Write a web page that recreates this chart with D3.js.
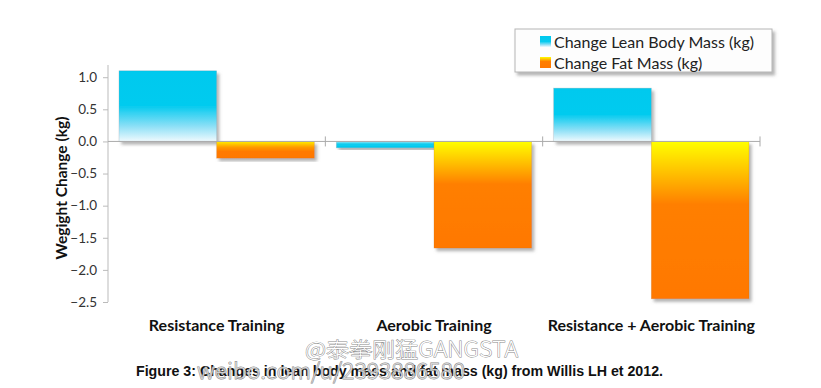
<!DOCTYPE html>
<html><head><meta charset="utf-8">
<script src="https://cdn.jsdelivr.net/npm/d3@7"></script>
<style>body{margin:0;background:#fff}svg{display:block}</style>
</head><body>
<svg id="c" width="821" height="388"></svg>
<script>
const categories = ["Resistance Training", "Aerobic Training", "Resistance + Aerobic Training"];
const seriesNames = ["Change Lean Body Mass (kg)", "Change Fat Mass (kg)"];
const leanMass = [1.1, -0.1, 0.83];
const fatMass = [-0.26, -1.66, -2.45];
const yTicks = [1.0, 0.5, 0.0, -0.5, -1.0, -1.5, -2.0, -2.5];
const yLabel = "Wegight Change (kg)";
const caption = "Figure 3: Changes in lean body mass and fat mass (kg) from Willis LH et 2012.";
const watermark = ["@泰拳刚猛GANGSTA", "weibo.com/u/2393886580"];

(function(){
const svg = d3.select("#c");
const font = "Lato, 'Open Sans', sans-serif";
const defs = svg.append("defs");

const gBlue = defs.append("linearGradient").attr("id","gBlue").attr("x1",0).attr("y1",0).attr("x2",0).attr("y2",1);
[[0,"#00c9ee"],[0.5,"#05cbef"],[0.78,"#8adff6"],[1,"#f0fafe"]].forEach(s=>gBlue.append("stop").attr("offset",s[0]).attr("stop-color",s[1]));
const gBlueN = defs.append("linearGradient").attr("id","gBlueN").attr("x1",0).attr("y1",1).attr("x2",0).attr("y2",0);
[[0,"#00c9ee"],[0.6,"#10cdef"],[1,"#9fe6f7"]].forEach(s=>gBlueN.append("stop").attr("offset",s[0]).attr("stop-color",s[1]));
const gOr = defs.append("linearGradient").attr("id","gOr").attr("x1",0).attr("y1",0).attr("x2",0).attr("y2",1);
[[0,"#ffff00"],[0.2,"#ffc000"],[0.4,"#ff7f00"],[1,"#ff7800"]].forEach(s=>gOr.append("stop").attr("offset",s[0]).attr("stop-color",s[1]));
const gOrS = defs.append("linearGradient").attr("id","gOrS").attr("x1",0).attr("y1",0).attr("x2",0).attr("y2",1);
[[0,"#ffee00"],[0.35,"#ff9a00"],[0.6,"#ff7a00"],[1,"#ff7800"]].forEach(s=>gOrS.append("stop").attr("offset",s[0]).attr("stop-color",s[1]));

const sh = defs.append("filter").attr("id","sh").attr("x","-10%").attr("y","-10%").attr("width","130%").attr("height","130%");
sh.append("feDropShadow").attr("dx",2.5).attr("dy",3).attr("stdDeviation",1.8).attr("flood-color","#777").attr("flood-opacity",0.55);

const pLeft = 108, pRight = 760, pTop = 65, pBottom = 302;
const y = d3.scaleLinear().domain([-2.5, 1.19]).range([pBottom, pTop]);
const x0 = d3.scaleBand().domain(categories).range([pLeft, pRight]).padding(0);
const x1 = d3.scaleBand().domain([0,1]).range([11, x0.bandwidth()-11]).padding(0);

const yAxis = d3.axisLeft(y).tickValues(yTicks).tickFormat(d3.format(".1f")).tickSize(5).tickPadding(6);
const ya = svg.append("g").attr("transform",`translate(${pLeft},0)`).call(yAxis);
ya.select(".domain").attr("stroke","#bbb").attr("d",`M0,${pTop}V${pBottom}`);
ya.selectAll(".tick line").attr("stroke","#bbb");
ya.selectAll(".tick text").attr("fill","#333").style("font-family",font).style("font-size","13.5px");

const data = [];
categories.forEach((c,i)=>{
  data.push({c, s:0, v:leanMass[i]});
  data.push({c, s:1, v:fatMass[i]});
});
svg.append("g").selectAll("rect").data(data).join("rect")
  .attr("x",d=>x0(d.c)+x1(d.s))
  .attr("width",x1.bandwidth())
  .attr("y",d=>y(Math.max(0,d.v)))
  .attr("height",d=>Math.abs(y(d.v)-y(0)))
  .attr("fill",d=>d.s===0 ? (d.v>=0?"url(#gBlue)":"url(#gBlueN)") : (Math.abs(d.v)<0.5?"url(#gOrS)":"url(#gOr)"))
  .attr("stroke",d=>d.s===0?"rgba(150,170,180,0.5)":"rgba(200,120,40,0.4)")
  .attr("stroke-width",0.6)
  .attr("filter","url(#sh)");

const xa = svg.append("g").attr("transform",`translate(0,${y(0)})`)
  .call(d3.axisBottom(x0).tickSize(0).tickFormat(""));
xa.select(".domain").attr("stroke","#aaa").attr("d",`M${pLeft},0H${pRight}`);
xa.selectAll(".tick").remove();
const bounds = categories.slice(1).map(c=>x0(c)).concat([pRight]);
xa.selectAll("line.sep").data(bounds).join("line").attr("class","sep")
  .attr("x1",d=>d).attr("x2",d=>d).attr("y1",-5).attr("y2",5).attr("stroke","#aaa");

svg.append("g").selectAll("text").data(categories).join("text")
  .attr("x",d=>x0(d)+x0.bandwidth()/2).attr("y",331)
  .attr("text-anchor","middle").style("font-family",font).style("font-weight","bold").style("font-size","16px")
  .attr("fill","#111").text(d=>d);

svg.append("text").attr("transform","translate(67,188) rotate(-90)")
  .attr("text-anchor","middle").style("font-family",font).style("font-weight","bold").style("font-size","15.5px")
  .attr("fill","#111").text(yLabel);

const lg = svg.append("g");
lg.append("rect").attr("x",515).attr("y",29).attr("width",257).attr("height",43)
  .attr("fill","#fdfdfd").attr("stroke","#b5b5b5").attr("stroke-width",1).attr("filter","url(#sh)");
seriesNames.forEach((n,i)=>{
  lg.append("rect").attr("x",540).attr("y",36+i*21).attr("width",11).attr("height",11).attr("fill",i===0?"url(#gBlue)":"url(#gOr)");
  lg.append("text").attr("x",554).attr("y",47.5+i*21).style("font-family",font).style("font-size","16px").attr("fill","#222").text(n);
});

svg.append("text").attr("x",136).attr("y",376)
  .attr("textLength",527).attr("lengthAdjust","spacingAndGlyphs")
  .style("font-family","'Liberation Sans Narrow','Liberation Sans',Arial,sans-serif").style("font-weight","bold").style("font-size","14px")
  .attr("fill","#111").text(caption);

svg.append("text").attr("x",305).attr("y",357).attr("textLength",213).attr("lengthAdjust","spacingAndGlyphs")
  .style("font-family","'Noto Sans CJK SC',sans-serif").style("font-weight","300").style("font-size","21px")
  .attr("fill","#fff").attr("stroke","#888").attr("stroke-width",0.9).attr("paint-order","stroke").text(watermark[0]);
svg.append("text").attr("x",197).attr("y",379).attr("textLength",268).attr("lengthAdjust","spacingAndGlyphs")
  .style("font-family","'Noto Sans CJK SC',sans-serif").style("font-weight","300").style("font-size","22px")
  .attr("fill","#fff").attr("fill-opacity",0.6).attr("stroke","#888").attr("stroke-width",0.9).attr("paint-order","stroke").text(watermark[1]);
})();
</script>
</body></html>
